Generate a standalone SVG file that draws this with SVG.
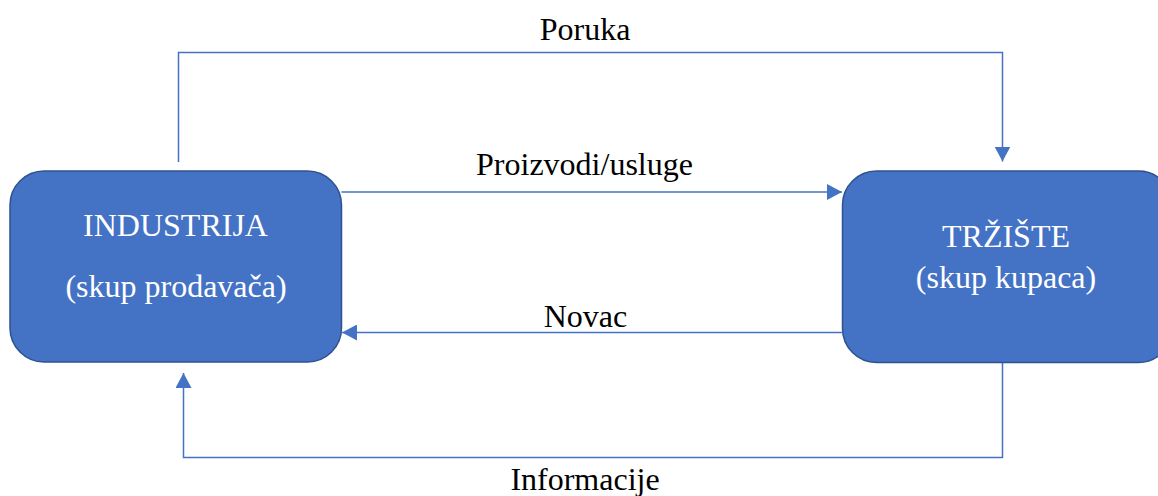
<svg xmlns="http://www.w3.org/2000/svg" width="1158" height="496" viewBox="0 0 1158 496">
<style>
.box{fill:#4472C4;stroke:#2F528F;stroke-width:1.5}
.lbl{font-family:"Liberation Serif","Times New Roman",serif;font-size:32px;fill:#000;text-anchor:middle}
.in{font-family:"Liberation Serif","Times New Roman",serif;font-size:32px;fill:#fff;text-anchor:middle}
.con{fill:none;stroke:#4472C4;stroke-width:1.5}
</style>
<defs>
<marker id="ah" viewBox="0 0 15 16" refX="15" refY="8" markerWidth="15" markerHeight="16" markerUnits="userSpaceOnUse" orient="auto">
<path d="M0,0 L15,8 L0,16 Z" fill="#4472C4"/>
</marker>
</defs>
<rect width="1158" height="496" fill="#fff"/>
<g id="connectors">
<path class="con" d="M178.5,162 V52.5 H1002.5 V161.5" marker-end="url(#ah)"/>
<path class="con" d="M341.5,192 H842" marker-end="url(#ah)"/>
<path class="con" d="M842,332.5 H342" marker-end="url(#ah)"/>
<path class="con" d="M1002.5,363 V457.5 H183.5 V373" marker-end="url(#ah)"/>
</g>
<g id="industrija">
<rect class="box" x="10" y="171" width="331.5" height="191" rx="34" ry="34"/>
<text class="in" x="175.5" y="236">INDUSTRIJA</text>
<text class="in" x="176" y="297">(skup prodavača)</text>
</g>
<g id="trziste">
<rect class="box" x="842.5" y="171" width="330" height="191.5" rx="34" ry="34"/>
<text class="in" x="1006" y="247">TRŽIŠTE</text>
<text class="in" x="1006" y="288">(skup kupaca)</text>
</g>
<g id="labels">
<text class="lbl" x="585" y="40">Poruka</text>
<text class="lbl" x="584.5" y="175">Proizvodi/usluge</text>
<text class="lbl" x="585.5" y="326.5">Novac</text>
<text class="lbl" x="585" y="490">Informacije</text>
</g>
</svg>
